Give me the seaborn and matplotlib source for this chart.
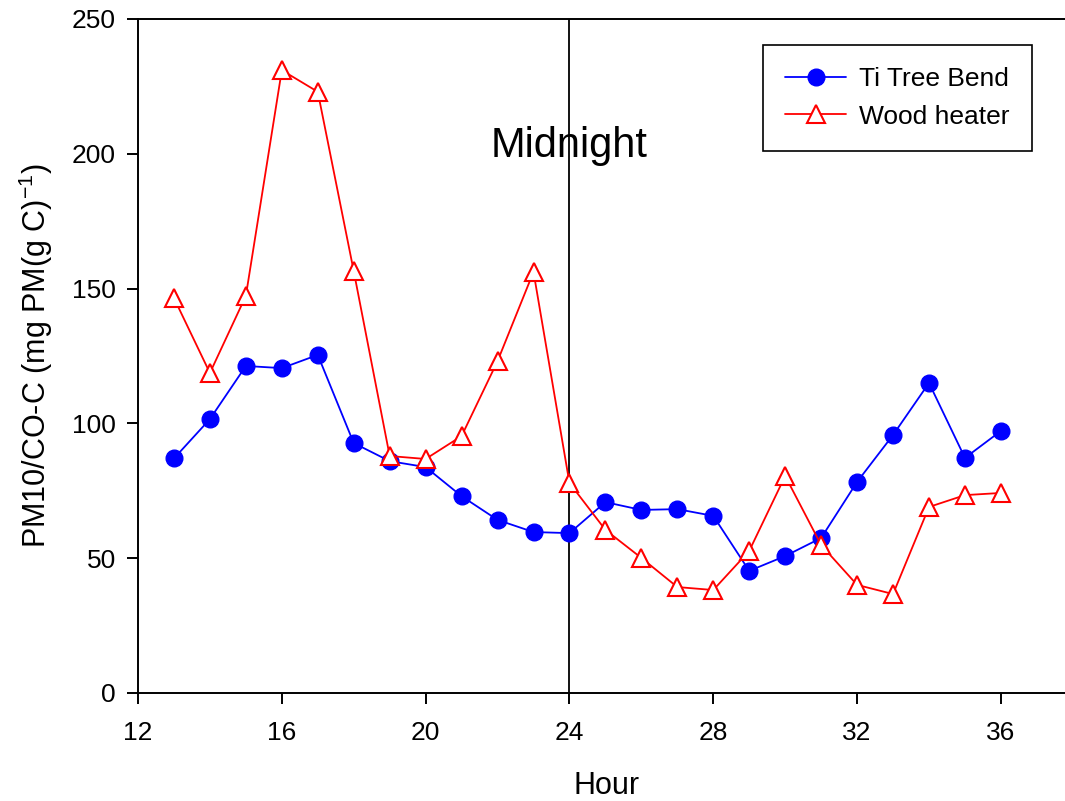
import numpy as np
import pandas as pd
import seaborn as sns
import matplotlib
matplotlib.use("Agg")
import matplotlib.pyplot as plt

hours = list(range(13, 37))
ti_tree_bend = [87, 101.6, 121.3, 120.5, 125.4, 92.7, 86, 83.8, 73, 64.2, 59.7, 59.3,
                70.8, 67.9, 68.2, 65.7, 45.3, 50.8, 57.5, 78.3, 95.7, 115, 87.2, 97.2]
wood_heater = [146.5, 118.7, 147.3, 231, 223, 156.5, 87.9, 86.8, 95.3, 123.1, 156.2, 77.9,
               60.5, 50.1, 39.3, 38.2, 52.7, 80.5, 54.9, 40.1, 36.7, 69, 73.4, 74.2]

df = pd.DataFrame({"Hour": hours, "Ti Tree Bend": ti_tree_bend, "Wood heater": wood_heater})

sns.set_style("ticks")
plt.rcParams["font.family"] = ["Liberation Sans", "DejaVu Sans"]
plt.rcParams["text.color"] = "black"
plt.rcParams["axes.labelcolor"] = "black"
plt.rcParams["xtick.color"] = "black"
plt.rcParams["ytick.color"] = "black"

fig = plt.figure(figsize=(10.65, 8.01), dpi=100)
ax = fig.add_axes([138 / 1065, 108 / 801, (1065 - 138) / 1065 + 0.01, (693 - 19) / 801])

sns.lineplot(data=df, x="Hour", y="Ti Tree Bend", ax=ax, color="blue", lw=1.3,
             marker="o", markersize=12, markerfacecolor="blue", markeredgecolor="blue",
             markeredgewidth=1, label="Ti Tree Bend")
sns.lineplot(data=df, x="Hour", y="Wood heater", ax=ax, color="red", lw=1.3,
             marker="^", markersize=13, markerfacecolor="white", markeredgecolor="red",
             markeredgewidth=1.5, label="Wood heater")

ax.axvline(24, color="black", lw=1.3, zorder=1)
ax.text(24, 203, "Midnight", fontsize=30, ha="center", va="center")

ax.set_xlim(12, 12 + (1065 - 138) / 35.96 + 0.3)
ax.set_ylim(0, 250)
ax.set_xticks([12, 16, 20, 24, 28, 32, 36])
ax.set_yticks([0, 50, 100, 150, 200, 250])
ax.tick_params(labelsize=19, direction="out", length=8, width=1.4, pad=12)
ax.tick_params(axis="y", pad=8)
for s in ["left", "bottom", "top"]:
    ax.spines[s].set_linewidth(1.4)
    ax.spines[s].set_color("black")
ax.spines["right"].set_visible(False)

ax.set_xlabel("Hour", fontsize=22, labelpad=19)
ax.set_ylabel(r"PM10/CO-C (mg PM(g C)$\mathregular{^{-1}}$)", fontsize=22, labelpad=12)

leg = ax.legend(loc="upper left", bbox_to_anchor=(763 / 1065, 1 - 45 / 801),
                bbox_transform=fig.transFigure,
                fontsize=19, frameon=True, fancybox=False, edgecolor="black", framealpha=1,
                handlelength=2.3, borderpad=0.85, labelspacing=0.5, handletextpad=0.5,
                borderaxespad=0)
leg.get_frame().set_linewidth(1.2)

fig.savefig("out.png", dpi=100)
